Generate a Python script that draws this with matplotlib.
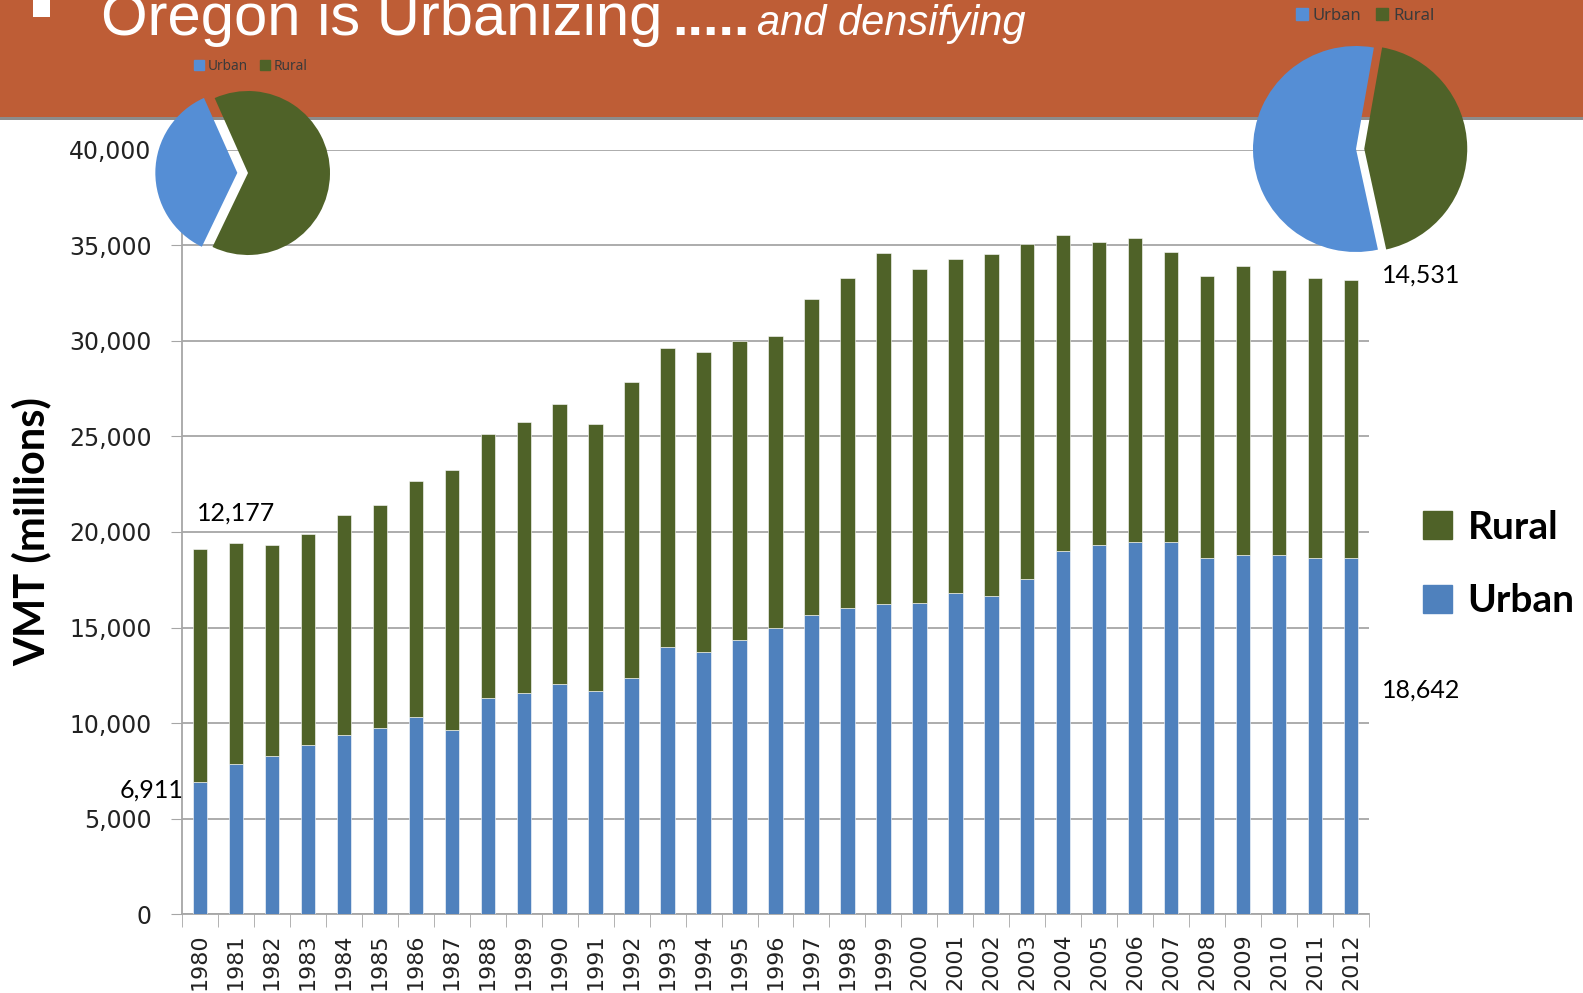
import numpy as np
import matplotlib.pyplot as plt
from matplotlib.patches import Rectangle, Patch

years = list(range(1980, 2013))
urban = [6911, 7875, 8257, 8833, 9350, 9715, 10299, 9645, 11331, 11550,
         12064, 11697, 12357, 13964, 13739, 14331, 14985, 15640, 16022, 16232,
         16304, 16828, 16671, 17541, 19030, 19305, 19462, 19462, 18640, 18797,
         18797, 18640, 18642]
rural = [12177, 11571, 11048, 11085, 11563, 11700, 12373, 13603, 13823, 14196,
         14640, 13969, 15498, 15672, 15672, 15656, 15300, 16546, 17279, 18378,
         17489, 17489, 17871, 17517, 16532, 15881, 15954, 15221, 14787, 15153,
         14944, 14661, 14531]

c_urban = '#4F81BD'
c_rural = '#4F6228'
c_pie_urban = '#558ED5'
c_band = '#BE5D36'

W, H = 1583, 993
fig = plt.figure(figsize=(W / 100, H / 100), dpi=100)

def box(x0, y0, x1, y1):
    # pixel box (top-left origin) -> figure fraction
    return [x0 / W, 1 - y1 / H, (x1 - x0) / W, (y1 - y0) / H]

# header band
fig.patches.append(Rectangle((0, 1 - 117 / H), 1, 117 / H, transform=fig.transFigure,
                             facecolor=c_band, edgecolor='none', zorder=-5))
fig.patches.append(Rectangle((0, 1 - 120 / H), 1, 3 / H, transform=fig.transFigure,
                             facecolor='#8C8C8C', edgecolor='none', zorder=-5))
fig.patches.append(Rectangle((33 / W, 1 - 17 / H), 17 / W, 17 / H, transform=fig.transFigure,
                             facecolor='white', edgecolor='none', zorder=-4))
title_font = ['Liberation Sans Narrow', 'Liberation Sans', 'DejaVu Sans']
fig.text(101 / W, 1 - 35 / H, 'Oregon is Urbanizing', color='white', fontsize=43,
         family=title_font, va='baseline', ha='left')
fig.text(672 / W, 1 - 35 / H, '.....', color='white', fontsize=40, fontweight='bold',
         family=title_font, va='baseline', ha='left')
fig.text(757 / W, 1 - 35 / H, 'and densifying', color='white', fontsize=30, style='italic',
         family=title_font, va='baseline', ha='left')

# main chart
ax = fig.add_axes(box(182, 150, 1369, 914))
x = np.arange(len(years))
ax.bar(x, urban, width=0.4, color=c_urban, edgecolor='white', linewidth=0.4, zorder=3, label='Urban')
ax.bar(x, rural, width=0.4, bottom=urban, color=c_rural, edgecolor='white', linewidth=0.4,
       zorder=3, label='Rural')
ax.set_xlim(-0.47, len(years) - 0.53)
ax.set_ylim(0, 40000)
ax.set_yticks(np.arange(0, 40001, 5000))
ax.set_yticklabels(['{:,}'.format(v) for v in range(0, 40001, 5000)], fontsize=17,
                   color='#222222')
ax.set_xticks(x)
ax.set_xticklabels([str(y) for y in years], rotation=90, fontsize=16, color='#222222')
ax.set_xticks(np.arange(-0.5, len(years)), minor=True)
ax.tick_params(axis='x', which='major', length=0, pad=14)
ax.tick_params(axis='x', which='minor', length=9, color='#A6A6A6')
ax.tick_params(axis='y', length=8, color='#A6A6A6', pad=14)
ax.grid(axis='y', color='#A6A6A6', linewidth=1.3, zorder=0)
for s in ['top', 'right']:
    ax.spines[s].set_visible(False)
ax.spines['left'].set_color('#A6A6A6')
ax.spines['bottom'].set_color('#A6A6A6')
ax.spines['left'].set_linewidth(1.3)
ax.spines['bottom'].set_linewidth(1.3)
fig.text(32 / W, 1 - 532 / H, 'VMT (millions)', fontsize=30, fontweight='bold', family='Lato',
         rotation=90, ha='center', va='center')

lab_font = 'Lato'
ax.text(1.0, 21000, '{:,}'.format(rural[0]), fontsize=18, family=lab_font, ha='center', va='center')
ax.text(-1.35, 6500, '{:,}'.format(urban[0]), fontsize=18, family=lab_font, ha='center', va='center',
        clip_on=False)
ax.text(33.95, 33460, '{:,}'.format(rural[-1]), fontsize=18, family=lab_font, ha='center',
        va='center', clip_on=False)
ax.text(33.95, 11730, '{:,}'.format(urban[-1]), fontsize=18, family=lab_font, ha='center',
        va='center', clip_on=False)

fig.legend(handles=[Patch(color=c_rural, label='Rural'), Patch(color=c_urban, label='Urban')],
           loc='center left', bbox_to_anchor=(1388 / W, 1 - 564 / H), frameon=False,
           prop={'family': 'Lato', 'weight': 'bold', 'size': 28},
           handlelength=0.75, handleheight=0.75, handletextpad=0.4, labelspacing=1.0)

# pies: 1980 and 2012
def draw_pie(cx, cy, r, u, ru, start, explode, leg_x, leg_y, leg_size):
    pax = fig.add_axes(box(cx - 1.3 * r, cy - 1.3 * r, cx + 1.3 * r, cy + 1.3 * r))
    pax.set_zorder(5)
    pax.pie([ru, u], colors=[c_rural, c_pie_urban], startangle=start,
            counterclock=False, explode=explode, wedgeprops={'linewidth': 0})
    pax.set_xlim(-1.3, 1.3)
    pax.set_ylim(-1.3, 1.3)
    pax.set_aspect('equal')
    pax.axis('off')
    fig.legend(handles=[Patch(color=c_pie_urban, label='Urban'), Patch(color=c_rural, label='Rural')],
               loc='center', bbox_to_anchor=(leg_x / W, 1 - leg_y / H), ncol=2, frameon=False,
               prop={'family': 'Noto Sans', 'size': leg_size}, labelcolor='#3A3A3A',
               handlelength=0.7, handleheight=0.7, handletextpad=0.3, columnspacing=0.9)

draw_pie(248, 173, 82, urban[0], rural[0], 114, [0, 0.13], 251, 66, 9.8)
draw_pie(1356, 149, 103, urban[-1], rural[-1], 80, [0.08, 0], 1365, 16, 12)

fig.savefig('out.png', dpi=100)
